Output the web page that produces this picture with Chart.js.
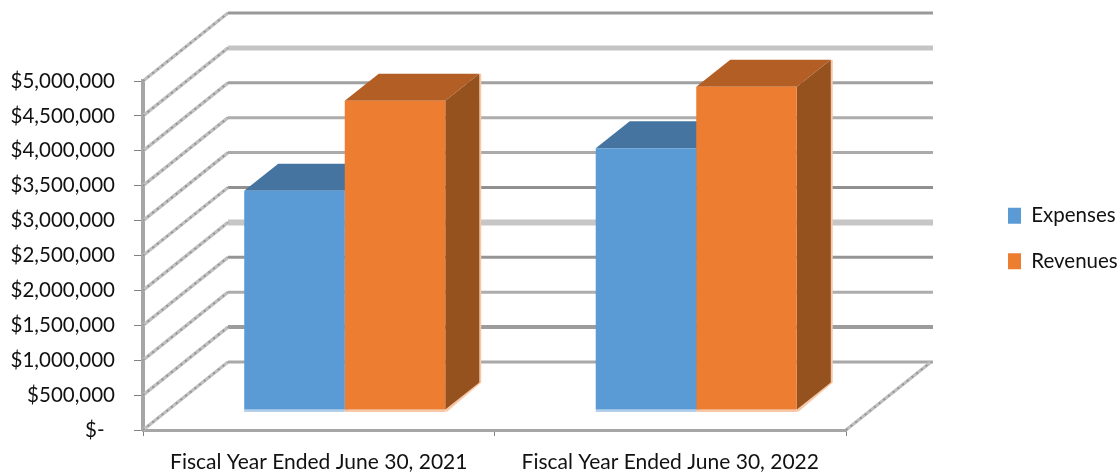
<!DOCTYPE html>
<html>
<head>
<meta charset="utf-8">
<title>Expenses and Revenues</title>
<style>
  html, body { margin: 0; padding: 0; background: #fff; }
  canvas { display: block; }
</style>
<script src="https://cdn.jsdelivr.net/npm/chart.js@4"></script>
</head>
<body>
<canvas id="dataChart" width="1120" height="475"></canvas>
<script>
/* global Chart */
const categories = ['Fiscal Year Ended June 30, 2021', 'Fiscal Year Ended June 30, 2022']
const expenses = [3140000, 3750000]
const revenues = [4430000, 4630000]

const fontName = 'Lato'
const fontSize = 20.5
const textColor = '#111111'

// Profundidad del piso y posicion de las barras dentro de el
const wallX = 85
const wallY = -68
const barShiftX = 26
const barShiftY = -20
const barDepthX = 34
const barDepthY = -27

// Las lineas de la pared de fondo no son todas iguales, de $- a $5,000,000
const gridColors = ['#a8a8a8', '#9c9c9c', '#adadad', '#959595', '#c6c6c6', '#909090', '#aaaaaa', '#adadad', '#a0a0a0', '#c4c4c4', '#999999']
const gridWidths = [3, 4, 3, 3, 6, 3, 3, 3, 3, 5, 3]

const faces = [
  { top: '#44749f', side: '#3c6a93', edge: '#b4cfe9' },
  { top: '#b25e25', side: '#95511e', edge: '#f6c8a8' }
]

function drawDiagonal (ctx, x, y) {
  ctx.beginPath()
  ctx.moveTo(x, y)
  ctx.lineTo(x + wallX, y + wallY)
  ctx.lineWidth = 3.5
  ctx.strokeStyle = '#c0c0c0'
  ctx.setLineDash([])
  ctx.stroke()
  ctx.lineWidth = 2
  ctx.strokeStyle = '#949494'
  ctx.setLineDash([2, 4])
  ctx.stroke()
  ctx.setLineDash([])
}

function fillShape (ctx, color, points) {
  ctx.beginPath()
  points.forEach(function (p, i) {
    if (i === 0) ctx.moveTo(p[0], p[1])
    else ctx.lineTo(p[0], p[1])
  })
  ctx.closePath()
  ctx.fillStyle = color
  ctx.fill()
}

const depthPlugin = {
  id: 'depth',
  beforeLayout (chart) {
    // La leyenda queda lejos del grafico, como en el original
    if (chart.legend.fitWrapped) return
    const fit = chart.legend.fit
    chart.legend.fit = function () {
      fit.call(this)
      this.width = 274
    }
    chart.legend.fitWrapped = true
  },
  afterLayout (chart) {
    chart.legend.left = 983
    chart.legend.top = 1
    chart.legend.bottom = chart.height + 1
  },
  beforeDatasetsDraw (chart) {
    const ctx = chart.ctx
    const yScale = chart.scales.y
    const area = chart.chartArea

    ctx.save()
    yScale.ticks.forEach(function (tick, i) {
      const y = yScale.getPixelForValue(tick.value)
      ctx.beginPath()
      ctx.moveTo(area.left + wallX, y + wallY)
      ctx.lineTo(area.right + wallX + 2, y + wallY)
      ctx.lineWidth = gridWidths[i]
      ctx.strokeStyle = gridColors[i]
      ctx.stroke()
      drawDiagonal(ctx, area.left, y)
    })
    drawDiagonal(ctx, area.right, area.bottom)
    ctx.restore()

    // Todo lo que sigue, caras y barras, se dibuja desplazado sobre el piso
    ctx.save()
    ctx.translate(barShiftX, barShiftY)
    chart.data.datasets.forEach(function (dataset, d) {
      chart.getDatasetMeta(d).data.forEach(function (bar) {
        const left = bar.x - bar.width / 2
        const right = bar.x + bar.width / 2
        fillShape(ctx, faces[d].edge, [
          [right + barDepthX, bar.y + barDepthY],
          [right + barDepthX + 2, bar.y + barDepthY],
          [right + barDepthX + 2, bar.base + barDepthY],
          [right + 2, bar.base + 2],
          [right, bar.base + 2]
        ])
        fillShape(ctx, faces[d].side, [
          [right, bar.y],
          [right + barDepthX, bar.y + barDepthY],
          [right + barDepthX, bar.base + barDepthY],
          [right, bar.base]
        ])
        fillShape(ctx, faces[d].top, [
          [left, bar.y],
          [left + barDepthX, bar.y + barDepthY],
          [right + barDepthX, bar.y + barDepthY],
          [right, bar.y]
        ])
        ctx.fillStyle = faces[d].edge
        ctx.fillRect(left, bar.base, bar.width, 2.5)
      })
    })
  },
  afterDatasetsDraw (chart) {
    chart.ctx.restore()
  }
}

const dataChart = new Chart(document.getElementById('dataChart').getContext('2d'), {
  type: 'bar',
  data: {
    labels: categories,
    datasets: [
      { label: 'Expenses', data: expenses, backgroundColor: '#5b9bd5', clip: false },
      { label: 'Revenues', data: revenues, backgroundColor: '#ed7d31', clip: false }
    ]
  },
  options: {
    responsive: false,
    animation: false,
    categoryPercentage: 0.572,
    barPercentage: 1,
    layout: { padding: { top: 81 } },
    plugins: {
      tooltip: { enabled: false },
      legend: {
        position: 'right',
        labels: {
          boxWidth: 13,
          boxHeight: 16,
          padding: 25,
          color: textColor,
          font: { family: fontName, size: fontSize }
        }
      }
    },
    scales: {
      x: {
        afterFit (scale) { scale.height = 45 },
        border: { color: '#a6a6a6', width: 3 },
        grid: { drawOnChartArea: false, tickLength: 6, tickColor: '#808080' },
        ticks: {
          color: textColor,
          padding: 14,
          maxRotation: 0,
          font: { family: fontName, size: 21 }
        }
      },
      y: {
        min: 0,
        max: 5000000,
        afterFit (scale) { scale.width = 143 },
        border: { color: '#a6a6a6', width: 4 },
        grid: { drawOnChartArea: false, tickLength: 9, tickColor: '#808080' },
        ticks: {
          stepSize: 500000,
          color: textColor,
          padding: 19,
          font: { family: fontName, size: fontSize },
          callback (value) {
            return value === 0 ? '$-\u00a0\u00a0' : '$' + value.toLocaleString('en-US')
          }
        }
      }
    }
  },
  plugins: [depthPlugin]
})
</script>
</body>
</html>
